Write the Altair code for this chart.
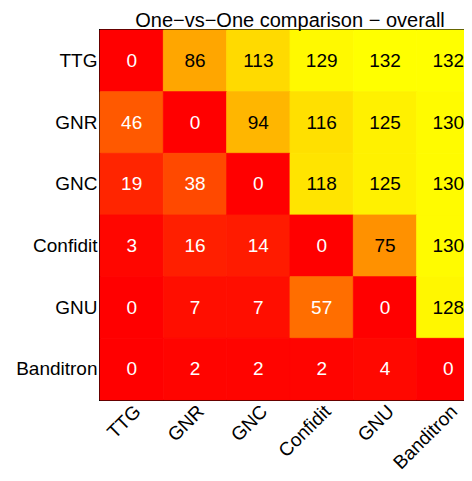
import altair as alt
import pandas as pd

names = ["TTG", "GNR", "GNC", "Confidit", "GNU", "Banditron"]
row_TTG = [0, 86, 113, 129, 132, 132]
row_GNR = [46, 0, 94, 116, 125, 130]
row_GNC = [19, 38, 0, 118, 125, 130]
row_Confidit = [3, 16, 14, 0, 75, 130]
row_GNU = [0, 7, 7, 57, 0, 128]
row_Banditron = [0, 2, 2, 2, 4, 0]

rows = [row_TTG, row_GNR, row_GNC, row_Confidit, row_GNU, row_Banditron]
records = []
for rname, vals in zip(names, rows):
    for cname, v in zip(names, vals):
        records.append({"row": rname, "col": cname, "value": v})
df = pd.DataFrame(records)

FONT = "Liberation Sans"

x = alt.X("col:N", sort=names, title=None,
          scale=alt.Scale(paddingInner=0, paddingOuter=0),
          axis=alt.Axis(labelAngle=-45, labelAlign="right", labelBaseline="middle",
                        ticks=False, domain=False, labelPadding=8, labelOffset=6,
                        labelFontSize=19, labelFont=FONT, labelColor="black"))
y = alt.Y("row:N", sort=names, title=None,
          scale=alt.Scale(paddingInner=0, paddingOuter=0),
          axis=alt.Axis(ticks=False, domain=False, labelPadding=3,
                        labelFontSize=19, labelFont=FONT, labelColor="black"))

heat = alt.Scale(domain=[0, 132], range=["#ff0000", "#ffff00"], interpolate="rgb")

base = alt.Chart(df)
rect = base.mark_rect(strokeWidth=0.8).encode(
    x=x, y=y,
    color=alt.Color("value:Q", legend=None, scale=heat),
    stroke=alt.Stroke("value:Q", legend=None, scale=heat),
)
text = base.mark_text(fontSize=19, font=FONT, baseline="middle").encode(
    x=x, y=y,
    text="value:Q",
    color=alt.condition("datum.value > 66", alt.value("black"), alt.value("white")),
)

chart = (rect + text).properties(
    width=380, height=370,
    title=alt.TitleParams("One\u2212vs\u2212One comparison \u2212 overall", fontSize=20, font=FONT,
                          fontWeight="normal", anchor="middle", offset=-1, color="black"),
    autosize=alt.AutoSizeParams(type="none"),
    padding={"left": 92, "top": 22, "right": -16, "bottom": 73},
).configure_view(stroke="black", strokeWidth=2)

chart.save("out.html", embed_options={"renderer": "svg", "actions": False})
